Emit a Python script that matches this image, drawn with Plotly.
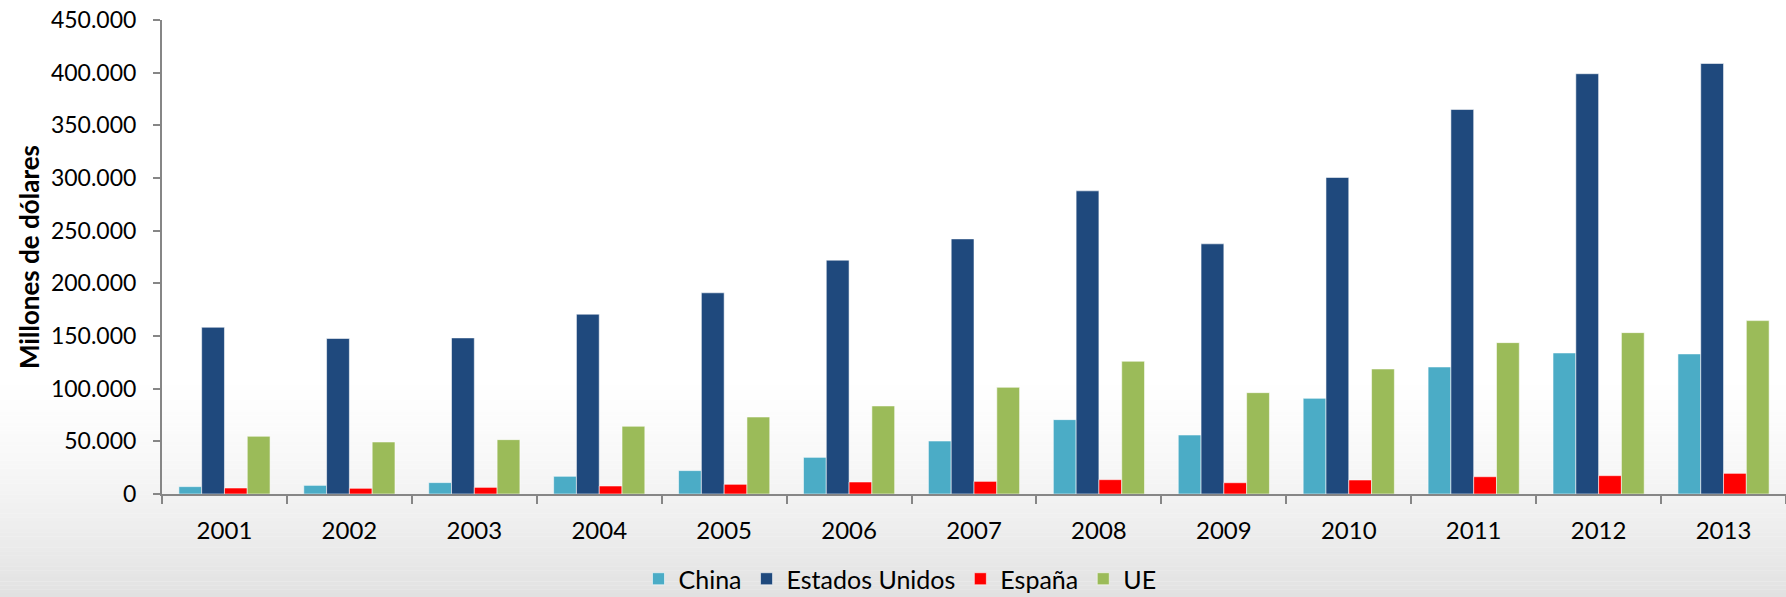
import plotly.graph_objects as go

years = ["2001", "2002", "2003", "2004", "2005", "2006", "2007",
         "2008", "2009", "2010", "2011", "2012", "2013"]
china = [7000, 8200, 10800, 16800, 22200, 34800, 50300,
         70600, 56000, 90800, 120600, 133900, 133000]
estados_unidos = [158300, 147600, 148200, 170700, 191000, 222000, 242200,
                  287800, 237500, 300500, 365000, 399000, 408700]
espana = [5700, 5400, 6300, 7600, 9200, 11400, 12000,
          13600, 10700, 13300, 16400, 17400, 19600]
ue = [54800, 49400, 51600, 64300, 73100, 83600, 101300,
      126000, 96200, 118700, 143700, 153200, 164600]

series = [
    ("China", china, "#4BACC6"),
    ("Estados Unidos", estados_unidos, "#1F497D"),
    ("España", espana, "#FF0000"),
    ("UE", ue, "#9BBB59"),
]

W, H = 1786, 597
L, R, T, B = 162, 0, 20, 103
plot_h = H - T - B
plot_w = W - L - R

FONT = "Lato"

fig = go.Figure()
for name, vals, col in series:
    fig.add_trace(go.Bar(
        x=years, y=vals, name=name,
        marker=dict(color=col, line=dict(color="rgba(255,255,255,0.55)", width=1)),
    ))

# background gradient (white -> light grey toward the bottom)
shapes = []
y_start, y_end = 370, H
n = 60
for i in range(n):
    y0 = y_start + (y_end - y_start) * i / n
    y1 = y_start + (y_end - y_start) * (i + 1) / n
    t = ((y0 + y1) / 2 - y_start) / (y_end - y_start)
    v = int(round(255 - 30 * t ** 1.5))
    shapes.append(dict(
        type="rect", xref="paper", yref="paper", layer="below",
        x0=-L / plot_w, x1=1.0 + 1.0 / plot_w,
        y0=(H - B - y1) / plot_h, y1=(H - B - y0) / plot_h + 0.0005,
        fillcolor=f"rgb({v},{v},{v})", line=dict(width=0),
    ))

fig.update_layout(
    width=W, height=H,
    margin=dict(l=L, r=R, t=T, b=B, pad=0, autoexpand=False),
    paper_bgcolor="white",
    plot_bgcolor="rgba(0,0,0,0)",
    barmode="group",
    bargap=0.27,
    bargroupgap=0,
    separators=",.",
    font=dict(family=FONT, size=23, color="black"),
    shapes=shapes,
    showlegend=True,
    legend=dict(
        orientation="h", x=(900 - L) / plot_w, xanchor="center",
        y=-(579 - (H - B)) / plot_h, yanchor="middle",
        bgcolor="rgba(0,0,0,0)",
        font=dict(family=FONT, size=25, color="black"),
        itemwidth=30,
        traceorder="normal",
    ),
)

fig.update_yaxes(
    range=[0, 450000], dtick=50000, tickformat=",d",
    showgrid=False, zeroline=False, automargin=False,
    showline=True, linecolor="#868686", linewidth=2,
    ticks="outside", ticklen=7, tickwidth=2, tickcolor="#868686",
    ticklabelstandoff=12,
    tickfont=dict(family=FONT, size=23, color="black"),
    title=dict(text="<b>Millones de dólares</b>",
               font=dict(family=FONT, size=26, color="black"),
               standoff=4),
)
fig.update_xaxes(
    showgrid=False, zeroline=False, automargin=False,
    showline=True, linecolor="#868686", linewidth=2,
    ticks="outside", ticklen=8, tickwidth=2, tickcolor="#868686",
    tickson="boundaries",
    ticklabelstandoff=14,
    tickfont=dict(family=FONT, size=24, color="black"),
)

fig.write_html(
    "out.html",
    config={"displayModeBar": False},
    post_script="document.body.style.margin='0';document.body.style.overflow='hidden';",
)
